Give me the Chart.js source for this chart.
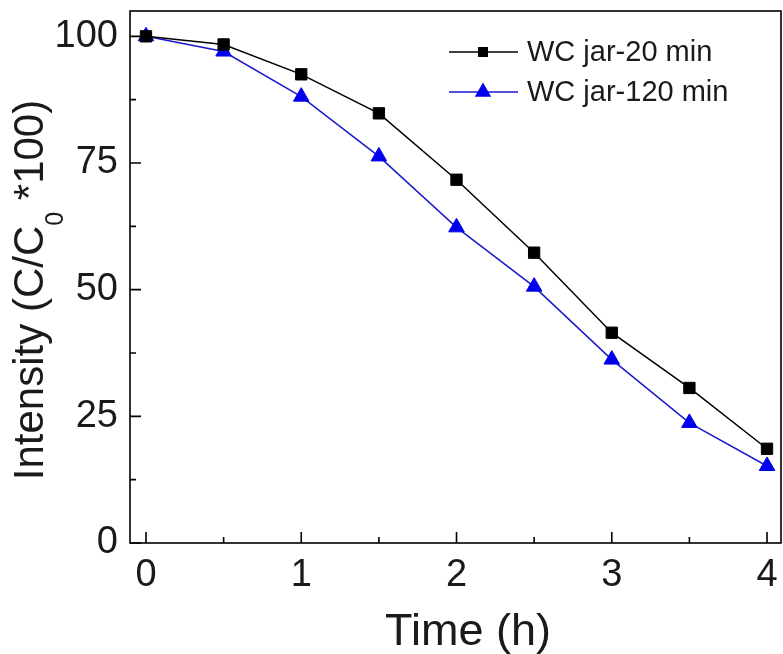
<!DOCTYPE html>
<html><head><meta charset="utf-8">
<script src="https://cdn.jsdelivr.net/npm/chart.js@4.4.0/dist/chart.umd.min.js"></script>
<style>html,body{margin:0;padding:0;background:#fff}#wrap{width:783px;height:654px}</style>
</head><body><div id="wrap"><canvas id="c" width="783" height="654"></canvas></div>
<script>
const times = [0, 0.5, 1, 1.5, 2, 2.5, 3, 3.5, 4];
const jar20 = [100, 98.4, 92.5, 84.8, 71.7, 57.3, 41.5, 30.6, 18.6];
const jar120 = [100, 97.0, 88.1, 76.3, 62.3, 50.6, 36.2, 23.7, 15.2];
const seriesLabels = ['WC jar-20 min', 'WC jar-120 min'];
const xTickValues = [0, 1, 2, 3, 4];
const xMinorValues = [0.5, 1.5, 2.5, 3.5];
const yTickValues = [0, 25, 50, 75, 100];
const yMinorValues = [12.5, 37.5, 62.5, 87.5];
const xTitle = 'Time (h)';
const yTitleParts = ['Intensity (C/C', '0', ' *100)'];

const FONT = '"Liberation Sans", Arial, sans-serif';
const TXT = '#1a1a1a';

const framePlugin = {
  id: 'frame',
  afterDraw(chart) {
    const {ctx, chartArea: a, scales: {x, y}} = chart;
    ctx.save();
    ctx.strokeStyle = '#000';
    ctx.lineWidth = 1.6;
    ctx.strokeRect(a.left, a.top, a.right - a.left, a.bottom - a.top);
    ctx.beginPath();
    xTickValues.forEach(v => { const p = x.getPixelForValue(v); ctx.moveTo(p, a.bottom); ctx.lineTo(p, a.bottom - 11); });
    xMinorValues.forEach(v => { const p = x.getPixelForValue(v); ctx.moveTo(p, a.bottom); ctx.lineTo(p, a.bottom - 6); });
    yTickValues.forEach(v => { const p = y.getPixelForValue(v); ctx.moveTo(a.left, p); ctx.lineTo(a.left + 11, p); });
    yMinorValues.forEach(v => { const p = y.getPixelForValue(v); ctx.moveTo(a.left, p); ctx.lineTo(a.left + 6, p); });
    ctx.stroke();
    ctx.restore();

    // x-axis title
    ctx.save();
    ctx.font = '45px ' + FONT;
    ctx.fillStyle = TXT;
    ctx.textAlign = 'center';
    ctx.textBaseline = 'alphabetic';
    ctx.fillText(xTitle, 468, 645);
    ctx.restore();

    // y-axis title with subscript
    ctx.save();
    const big = '42px ' + FONT, small = '25px ' + FONT;
    ctx.font = big; const w0 = ctx.measureText(yTitleParts[0]).width;
    const w2 = ctx.measureText(yTitleParts[2]).width;
    ctx.font = small; const w1 = ctx.measureText(yTitleParts[1]).width;
    const total = w0 + w1 + w2;
    const cy = 290;
    ctx.translate(43, cy);
    ctx.rotate(-Math.PI / 2);
    ctx.fillStyle = TXT;
    ctx.textBaseline = 'alphabetic';
    ctx.textAlign = 'left';
    let sx = -total / 2;
    ctx.font = big; ctx.fillText(yTitleParts[0], sx, 0); sx += w0;
    ctx.font = small; ctx.fillText(yTitleParts[1], sx, 20); sx += w1;
    ctx.font = big; ctx.fillText(yTitleParts[2], sx, 0);
    ctx.restore();

    // legend
    ctx.save();
    ctx.font = '29px ' + FONT;
    ctx.textBaseline = 'middle';
    chart.data.datasets.forEach((ds, i) => {
      const ly = 52 + i * 40;
      ctx.strokeStyle = ds.borderColor; ctx.lineWidth = 1.5;
      ctx.beginPath(); ctx.moveTo(449, ly); ctx.lineTo(518, ly); ctx.stroke();
      ctx.fillStyle = ds.pointBackgroundColor; ctx.strokeStyle = ds.pointBorderColor;
      Chart.helpers.drawPoint(ctx, {pointStyle: ds.pointStyle, radius: i === 0 ? 6 : 8, borderWidth: 1}, 483, ly);
      ctx.fillStyle = TXT;
      ctx.fillText(ds.label, 527, ly + 1);
    });
    ctx.restore();
  }
};

new Chart(document.getElementById('c'), {
  type: 'line',
  data: {
    datasets: [
      { label: seriesLabels[0], data: times.map((t, i) => ({x: t, y: jar20[i]})),
        borderColor: '#000', backgroundColor: '#000', borderWidth: 1.5,
        pointStyle: 'rect', pointRadius: 8, pointBorderWidth: 1, pointBackgroundColor: '#000', pointBorderColor: '#000' },
      { label: seriesLabels[1], data: times.map((t, i) => ({x: t, y: jar120[i]})),
        borderColor: '#1a1acc', backgroundColor: '#0000ee', borderWidth: 1.5,
        pointStyle: 'triangle', pointRadius: 9, pointBorderWidth: 1, pointBackgroundColor: '#0000ee', pointBorderColor: '#0000ee' }
    ]
  },
  options: {
    responsive: false, animation: false,
    layout: { autoPadding: false, padding: { left: 0, top: 11, right: 2, bottom: 0 } },
    plugins: { legend: { display: false }, tooltip: { enabled: false } },
    scales: {
      x: {
        type: 'linear', min: -0.103, max: 4.09,
        afterBuildTicks: s => { s.ticks = xTickValues.map(v => ({value: v})); },
        afterFit: s => { s.height = 111; s.paddingLeft = 0; s.paddingRight = 0; },
        grid: { display: false, drawTicks: false },
        border: { display: false },
        ticks: { padding: 10, color: TXT, font: { family: FONT, size: 38 }, callback: v => String(v) }
      },
      y: {
        min: 0, max: 105,
        afterBuildTicks: s => { s.ticks = yTickValues.map(v => ({value: v})); },
        afterFit: s => { s.width = 130; s.paddingTop = 0; s.paddingBottom = 0; },
        grid: { display: false, drawTicks: false },
        border: { display: false },
        ticks: { padding: 12, color: TXT, font: { family: FONT, size: 38 }, callback: v => String(v) }
      }
    }
  },
  plugins: [framePlugin]
});
</script></body></html>
